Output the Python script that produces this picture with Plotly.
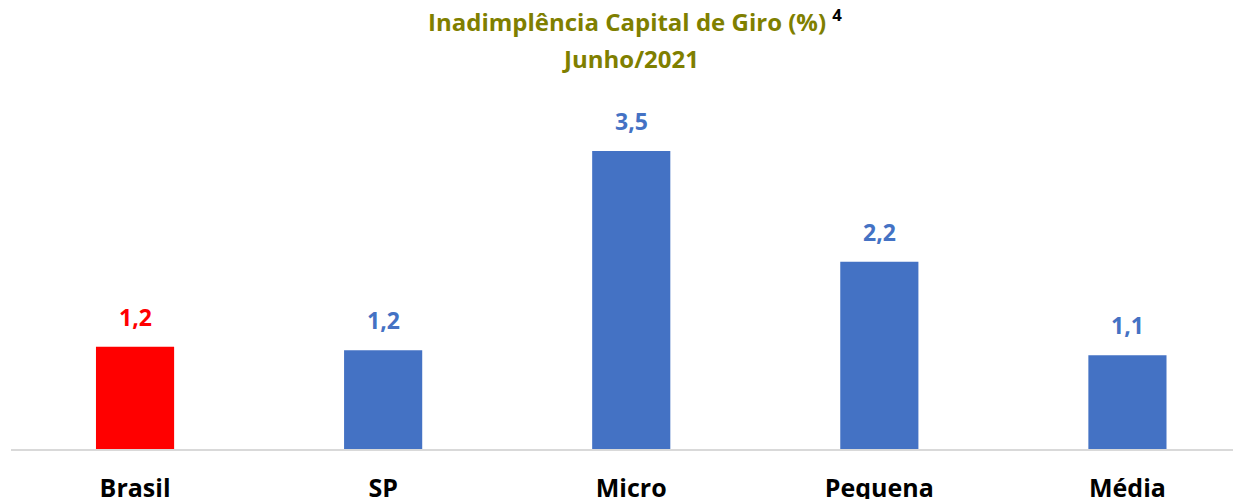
import plotly.graph_objects as go

categories = ["Brasil", "SP", "Micro", "Pequena", "Média"]
values = [1.2, 1.16, 3.5, 2.2, 1.1]
colors = ["#FF0000", "#4472C4", "#4472C4", "#4472C4", "#4472C4"]
labels = ["1,2", "1,2", "3,5", "2,2", "1,1"]

FONT = "Open Sans"
TITLE_COLOR = "#7F7F00"

fig = go.Figure()
fig.add_trace(go.Bar(
    x=list(range(len(categories))), y=values,
    marker=dict(color=colors, line=dict(width=0)),
    width=0.315,
))

for i, (v, lab, c) in enumerate(zip(values, labels, colors)):
    fig.add_annotation(x=i, y=v, text="<b>%s</b>" % lab, showarrow=False,
                       yanchor="middle", yshift=30,
                       font=dict(family=FONT, size=23, color=c))

fig.add_annotation(
    xref="paper", yref="paper", x=0.504, y=1.0, yshift=80, yanchor="middle",
    text="<b>Inadimplência Capital de Giro (%) <sup><span style='color:black'>4</span></sup></b>",
    showarrow=False, align="center",
    font=dict(family=FONT, size=24, color=TITLE_COLOR))
fig.add_annotation(
    xref="paper", yref="paper", x=0.5, y=1.0, yshift=42, yanchor="middle",
    text="<b>Junho/2021</b>",
    showarrow=False, align="center",
    font=dict(family=FONT, size=24, color=TITLE_COLOR))

fig.update_layout(
    width=1241, height=499,
    margin=dict(l=3, r=0, t=92, b=58),
    plot_bgcolor="white", paper_bgcolor="white",
    showlegend=False,
    xaxis=dict(
        range=[-0.5, 4.49],
        tickmode="array", tickvals=list(range(len(categories))),
        ticktext=["<b>%s</b>" % c for c in categories],
        tickfont=dict(family=FONT, size=25, color="black"),
        showgrid=False, zeroline=False,
        showline=True, linecolor="#D9D9D9", linewidth=1.5,
        ticks="", ticklabelstandoff=16,
    ),
    yaxis=dict(range=[0, 4.1], visible=False, showgrid=False, zeroline=False),
)

fig.write_html("out.html")
